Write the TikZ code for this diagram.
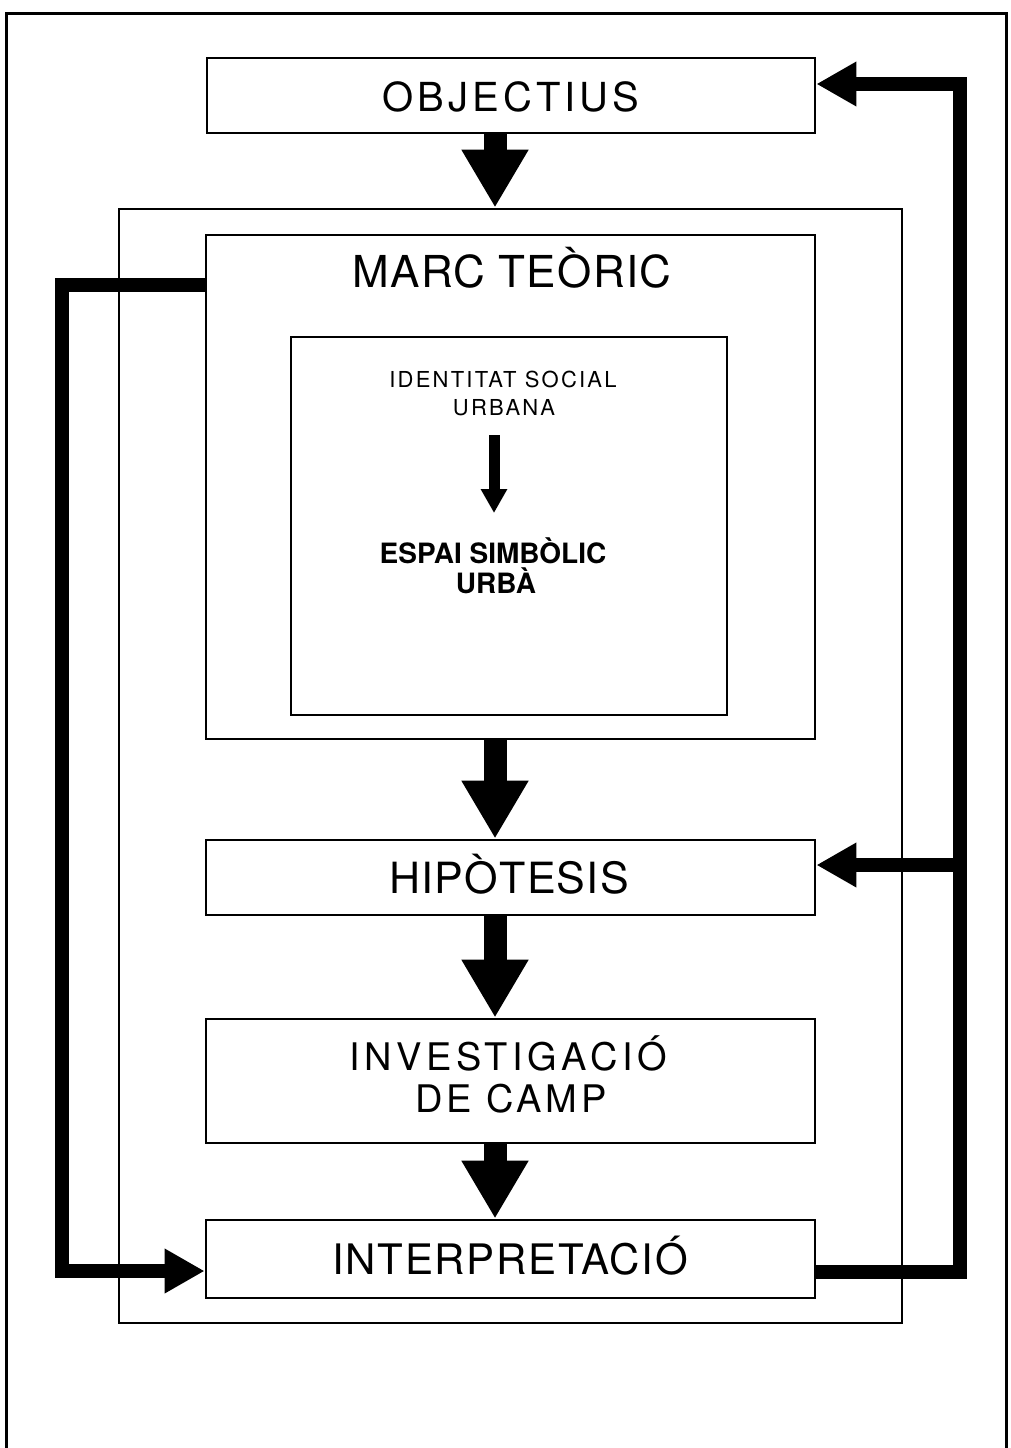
\documentclass[tikz,border=0pt]{standalone}
\usepackage{fontspec}
\setmainfont{TeX Gyre Heros}
\usetikzlibrary{arrows.meta,calc}
\newcommand\tfont[2]{\fontsize{#1}{#1}\selectfont\addfontfeature{LetterSpace=#2}}
\begin{document}
\begin{tikzpicture}[x=1pt,y=-1pt,
  frame/.style={line width=3pt},
  box/.style={draw,line width=2.8pt,inner sep=0pt},
  lbl/.style={anchor=base,inner sep=0pt},
  bigarrow/.style={line width=23pt,-{Triangle[length=58pt,width=63pt]}},
  feedback/.style={line width=14pt,line join=miter,-{Triangle[length=40pt,width=42pt]}},
  smallarrow/.style={line width=11pt,-{Triangle[length=24pt,width=25pt]}}]
\useasboundingbox (0,0) rectangle (1011,1448);
\fill[white] (0,0) rectangle (1011,1448);
% outer frame
\draw[frame] (6,1448) -- (6,13) -- (1006,13) -- (1006,1448);
% boxes
\node[box,minimum width=608pt,minimum height=75pt] (obj) at (511,95.5) {};
\node[box,minimum width=783pt,minimum height=1114pt] (cont) at (510.5,766) {};
\node[box,minimum width=609pt,minimum height=504pt] (marc) at (510.5,487) {};
\node[box,minimum width=436pt,minimum height=378pt] (inner) at (509,526) {};
\node[box,minimum width=609pt,minimum height=75pt] (hip) at (510.5,877.5) {};
\node[box,minimum width=609pt,minimum height=124pt] (inv) at (510.5,1081) {};
\node[box,minimum width=609pt,minimum height=78pt] (intp) at (510.5,1259) {};
% labels
\node[lbl] (lobj) at (511,111) {\tfont{40}{10}OBJECTIUS};
\node[lbl] (lmarc) at (512,287) {\tfont{44}{3}MARC TEÒRIC};
\node[lbl] (lid1) at (503,387) {\tfont{22}{10}IDENTITAT SOCIAL};
\node[lbl] (lid2) at (504,415) {\tfont{22}{10}URBANA};
\node[lbl] (les1) at (493,563) {\tfont{28}{0}\bfseries ESPAI SIMBÒLIC};
\node[lbl] (les2) at (496,593) {\tfont{28}{0}\bfseries URBÀ};
\node[lbl] (lhip) at (509,893) {\tfont{43}{3}HIPÒTESIS};
\node[lbl] (linv1) at (508,1070) {\tfont{38}{12}INVESTIGACIÓ};
\node[lbl] (linv2) at (511,1112) {\tfont{38}{10}DE CAMP};
\node[lbl] (lint) at (510,1274) {\tfont{42}{4}INTERPRETACIÓ};
% small arrow inside
\coordinate (ta) at (494,435);
\coordinate (tb) at (494,513);
\draw[smallarrow] (ta) -- (tb);
% main flow arrows
\draw[bigarrow] ([xshift=-16pt]obj.south) -- ([xshift=-15.5pt]cont.north);
\draw[bigarrow] ([xshift=-15.5pt]marc.south) -- ([xshift=-15.5pt]hip.north);
\draw[bigarrow] ([xshift=-15.5pt]hip.south) -- ([xshift=-15.5pt]inv.north);
\draw[bigarrow] ([xshift=-15.5pt]inv.south) -- ([xshift=-15.5pt]intp.north);
% feedback loops
\coordinate (objin) at ($(obj.east)+(0,-11.5)$);
\coordinate (hipin) at ($(hip.east)+(0,-12.5)$);
\coordinate (intout) at ($(intp.east)+(0,13)$);
\coordinate (intin) at ($(intp.west)+(0,12)$);
\coordinate (marcout) at ($(marc.north west)+(0,51)$);
\coordinate (rt) at (960,0);
\coordinate (lt) at (62,0);
\draw[feedback] (intout) -- (intout -| rt) -- (objin -| rt) -- (objin);
\draw[feedback] (hipin -| rt) -- (hipin);
\draw[feedback] (marcout) -- (marcout -| lt) -- (intin -| lt) -- (intin);
\end{tikzpicture}
\end{document}
